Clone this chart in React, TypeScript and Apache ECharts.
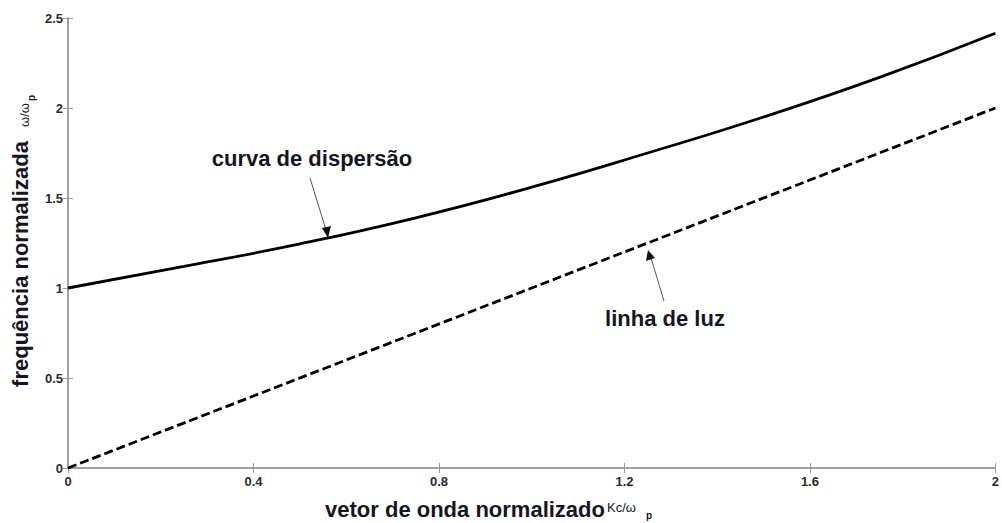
import React, { useEffect, useRef } from "react";
import * as echarts from "echarts";

// Normalised wave vector kc/ωp
const kValues = [0, 0.25, 0.5, 0.75, 1.0, 1.25, 1.5, 1.75, 2.0];
// Dispersion curve ω/ωp
const dispersionValues = [1.0, 1.12, 1.245, 1.39, 1.56, 1.75, 1.95, 2.17, 2.415];
// Light line ω = kc
const lightLineK = [0, 2];
const lightLineValues = [0, 2];

const xTicks = { min: 0, max: 2, interval: 0.4 };
const yTicks = { min: 0, max: 2.5, interval: 0.5 };

const FONT = "'Liberation Sans', Arial, sans-serif";
const AXIS_GRAY = "#9a9a9a";
const LABEL_COLOR = "#2b2b2b";
const TITLE_COLOR = "#15151f";

export default function App() {
  const ref = useRef<HTMLDivElement>(null);

  useEffect(() => {
    if (!ref.current) return;
    const chart = echarts.init(ref.current, undefined, { renderer: "svg" });

    const fmt = (v: number) => String(Math.round(v * 10) / 10);

    const baseAxis = {
      axisLine: { show: true, lineStyle: { color: AXIS_GRAY, width: 1.5 } },
      axisTick: { show: true, inside: true, length: 5, lineStyle: { color: AXIS_GRAY } },
      splitLine: { show: false },
    };

    chart.setOption({
      animation: false,
      backgroundColor: "#ffffff",
      grid: { left: 68, right: 2, top: 18, bottom: 55 },
      xAxis: [
        {
          type: "value",
          ...xTicks,
          ...baseAxis,
          axisLabel: {
            color: LABEL_COLOR,
            fontFamily: FONT,
            fontWeight: "bold",
            fontSize: 13,
            margin: 7,
            formatter: fmt,
          },
        },
        {
          type: "value",
          position: "top",
          ...xTicks,
          ...baseAxis,
          axisLabel: { show: false },
        },
      ],
      yAxis: [
        {
          type: "value",
          ...yTicks,
          ...baseAxis,
          axisLabel: {
            color: LABEL_COLOR,
            fontFamily: FONT,
            fontWeight: "bold",
            fontSize: 13,
            margin: 5,
            formatter: fmt,
          },
        },
        {
          type: "value",
          position: "right",
          ...yTicks,
          ...baseAxis,
          axisLabel: { show: false },
        },
      ],
      series: [
        {
          name: "curva de dispersão",
          type: "line",
          smooth: true,
          symbol: "none",
          data: kValues.map((k, i) => [k, dispersionValues[i]]),
          lineStyle: { color: "#000", width: 2.8 },
        },
        {
          name: "linha de luz",
          type: "line",
          symbol: "none",
          data: lightLineK.map((k, i) => [k, lightLineValues[i]]),
          lineStyle: { color: "#000", width: 2.8, type: [9, 4] },
        },
      ],
      graphic: [
        // y-axis title
        {
          type: "text",
          x: 20,
          y: 264,
          rotation: Math.PI / 2,
          style: {
            text: "frequência normalizada",
            fill: TITLE_COLOR,
            font: `bold 22px ${FONT}`,
            align: "center",
            verticalAlign: "middle",
          },
        },
        {
          type: "text",
          x: 24,
          y: 115,
          rotation: Math.PI / 2,
          style: {
            text: "ω/ω",
            fill: TITLE_COLOR,
            font: `13px ${FONT}`,
            align: "center",
            verticalAlign: "middle",
          },
        },
        {
          type: "text",
          x: 31,
          y: 98,
          rotation: Math.PI / 2,
          style: {
            text: "p",
            fill: TITLE_COLOR,
            font: `bold 10px ${FONT}`,
            align: "center",
            verticalAlign: "middle",
          },
        },
        // x-axis title
        {
          type: "text",
          x: 465,
          y: 509,
          style: {
            text: "vetor de onda normalizado",
            fill: TITLE_COLOR,
            font: `bold 22px ${FONT}`,
            align: "center",
            verticalAlign: "middle",
          },
        },
        {
          type: "text",
          x: 607,
          y: 507,
          style: {
            text: "Kc/ω",
            fill: TITLE_COLOR,
            font: `13px ${FONT}`,
            align: "left",
            verticalAlign: "middle",
          },
        },
        {
          type: "text",
          x: 649,
          y: 515,
          style: {
            text: "p",
            fill: TITLE_COLOR,
            font: `bold 10px ${FONT}`,
            align: "center",
            verticalAlign: "middle",
          },
        },
        // annotation: dispersion curve
        {
          type: "text",
          x: 312,
          y: 158,
          style: {
            text: "curva de dispersão",
            fill: TITLE_COLOR,
            font: `bold 22px ${FONT}`,
            align: "center",
            verticalAlign: "middle",
          },
        },
        {
          type: "line",
          shape: { x1: 310, y1: 178, x2: 326, y2: 230 },
          style: { stroke: "#555", lineWidth: 1 },
        },
        {
          type: "polygon",
          shape: { points: [[328, 238], [322, 228], [331, 226]] },
          style: { fill: "#111" },
        },
        // annotation: light line
        {
          type: "text",
          x: 665,
          y: 318,
          style: {
            text: "linha de luz",
            fill: TITLE_COLOR,
            font: `bold 22px ${FONT}`,
            align: "center",
            verticalAlign: "middle",
          },
        },
        {
          type: "line",
          shape: { x1: 664, y1: 301, x2: 651, y2: 258 },
          style: { stroke: "#555", lineWidth: 1 },
        },
        {
          type: "polygon",
          shape: { points: [[648, 250], [646, 261], [655, 258]] },
          style: { fill: "#111" },
        },
      ],
    });

    return () => chart.dispose();
  }, []);

  return <div ref={ref} style={{ width: 1002, height: 523, position: "absolute", left: 0, top: 0 }} />;
}
